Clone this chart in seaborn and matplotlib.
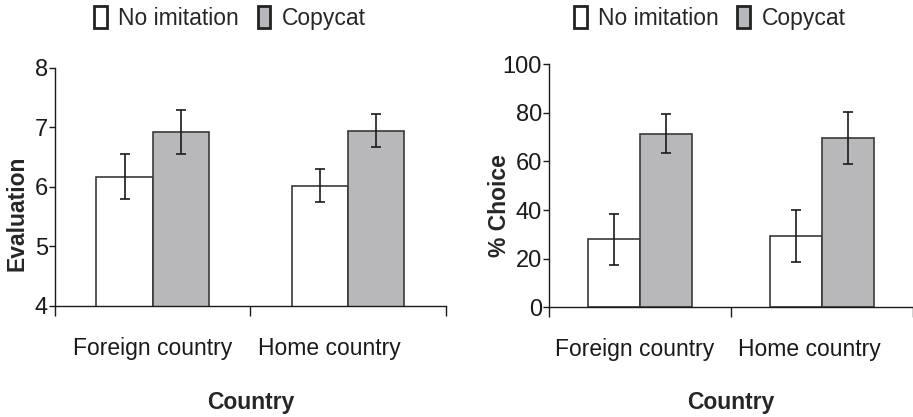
import numpy as np
import pandas as pd
import matplotlib
matplotlib.use('Agg')
import matplotlib.pyplot as plt
import matplotlib.transforms as mtransforms
from matplotlib.patches import Patch
import seaborn as sns

# data
countries = ['Foreign country', 'Home country']
conditions = ['No imitation', 'Copycat']

eval_mean = {'No imitation': [6.17, 6.02], 'Copycat': [6.92, 6.94]}
eval_low = {'No imitation': [5.79, 5.74], 'Copycat': [6.55, 6.67]}
eval_high = {'No imitation': [6.55, 6.30], 'Copycat': [7.29, 7.22]}

choice_mean = {'No imitation': [28.0, 29.5], 'Copycat': [71.4, 69.8]}
choice_low = {'No imitation': [17.4, 18.5], 'Copycat': [63.4, 59.0]}
choice_high = {'No imitation': [38.3, 40.0], 'Copycat': [79.4, 80.2]}

bar_colors = ['white', '#b7b8bb']

sns.set_style('white')
plt.rcParams['font.family'] = ['Liberation Sans', 'DejaVu Sans']


def long_df(means):
    rows = []
    for cond in conditions:
        for c, v in zip(countries, means[cond]):
            rows.append({'Country': c, 'cond': cond, 'value': v})
    return pd.DataFrame(rows)


def panel(ax, means, lows, highs, ylim, yticks, ylabel, ylab_xy, xlab_y, leg_xy, lab_shift):
    df = long_df(means)
    sns.barplot(data=df, x='Country', y='value', hue='cond', order=countries,
                hue_order=conditions, palette=bar_colors, width=0.575,
                edgecolor='#3a3a3a', linewidth=1.2, errorbar=None, legend=False, ax=ax)
    # error bars on top of the seaborn bars
    for cont, cond in zip(ax.containers, conditions):
        xs = [p.get_x() + p.get_width() / 2 for p in cont.patches]
        m = np.array(means[cond])
        lo = m - np.array(lows[cond])
        hi = np.array(highs[cond]) - m
        ax.errorbar(xs, m, yerr=[lo, hi], fmt='none', ecolor='#1a1a1a',
                    elinewidth=1.2, capsize=3.5, capthick=1.2, zorder=5)
    ax.set_ylim(*ylim)
    ax.set_xlim(-0.5, 1.5)
    ax.set_yticks(yticks)
    ax.tick_params(axis='y', labelsize=17, length=4, width=1, left=True,
                   direction='out', pad=1, colors='#1a1a1a')
    # category boundary ticks and centred labels
    ax.set_xticks([-0.5, 0.5, 1.5])
    ax.set_xticklabels([])
    ax.tick_params(axis='x', which='major', length=7, width=1, bottom=True,
                   direction='out', colors='#1a1a1a')
    ax.set_xticks([0, 1], minor=True)
    ax.set_xticklabels(countries, minor=True)
    ax.tick_params(axis='x', which='minor', length=0, pad=22, labelsize=16.5,
                   labelcolor='#1a1a1a')
    # excel nudged the labels a little to the left
    for lab, dx in zip(ax.get_xticklabels(minor=True), lab_shift):
        off = mtransforms.ScaledTranslation(dx / 100, 0, ax.figure.dpi_scale_trans)
        lab.set_transform(lab.get_transform() + off)
    for s in ['top', 'right']:
        ax.spines[s].set_visible(False)
    for s in ['left', 'bottom']:
        ax.spines[s].set_color('#1a1a1a')
        ax.spines[s].set_linewidth(1)
    ax.set_xlabel('Country', fontsize=16.5, fontweight='bold')
    ax.xaxis.set_label_coords(0.5, xlab_y)
    ax.set_ylabel(ylabel, fontsize=16.5, fontweight='bold')
    ax.yaxis.set_label_coords(*ylab_xy)
    handles = [Patch(facecolor=c, edgecolor='#222222', linewidth=2, label=l)
               for c, l in zip(bar_colors, conditions)]
    ax.legend(handles=handles, loc='center', bbox_to_anchor=leg_xy, ncol=2,
              frameon=False, fontsize=16.5, handlelength=0.55, handleheight=1.1,
              handletextpad=0.5, columnspacing=0.8)


fig = plt.figure(figsize=(9.13, 4.17), dpi=100)
ax1 = fig.add_axes([0.0602, 0.2662, 0.428, 0.571])
ax2 = fig.add_axes([0.6013, 0.263, 0.3987, 0.583])

panel(ax1, eval_mean, eval_low, eval_high, (4, 8), [4, 5, 6, 7, 8], 'Evaluation',
      (-0.068, 0.39), -0.355, (0.448, 1.21), [0, -19])
panel(ax2, choice_mean, choice_low, choice_high, (0, 100), [0, 20, 40, 60, 80, 100],
      '% Choice', (-0.105, 0.42), -0.345, (0.442, 1.19), [-5, -13])

fig.savefig('out.png', dpi=100)
